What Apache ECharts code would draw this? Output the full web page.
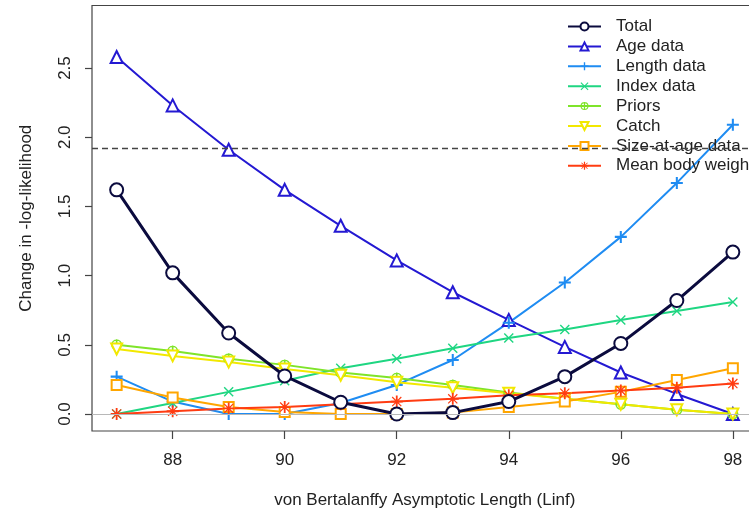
<!DOCTYPE html>
<html>
<head>
<meta charset="utf-8">
<script src="https://cdn.jsdelivr.net/npm/echarts@6/dist/echarts.min.js"></script>
<style>
html,body{margin:0;padding:0;background:#fff;}
#chart{width:749px;height:513px;}
</style>
</head>
<body>
<div id="chart"></div>
<script>
// ---- data ----
var linf = [87, 88, 89, 90, 91, 92, 93, 94, 95, 96, 97, 98];
var totalVals  = [1.62, 1.02, 0.585, 0.275, 0.085, 0.0, 0.01, 0.09, 0.27, 0.51, 0.82, 1.17];
var ageVals    = [2.58, 2.23, 1.91, 1.62, 1.36, 1.11, 0.88, 0.68, 0.485, 0.30, 0.145, 0.0];
var lengthVals = [0.27, 0.09, 0.0, 0.0, 0.08, 0.21, 0.39, 0.66, 0.95, 1.28, 1.67, 2.09];
var indexVals  = [0.0, 0.08, 0.16, 0.24, 0.33, 0.40, 0.475, 0.55, 0.61, 0.68, 0.745, 0.81];
var priorVals  = [0.50, 0.455, 0.40, 0.355, 0.30, 0.26, 0.21, 0.155, 0.11, 0.07, 0.03, 0.0];
var catchVals  = [0.47, 0.42, 0.375, 0.325, 0.28, 0.23, 0.19, 0.15, 0.11, 0.07, 0.03, 0.0];
var sizeVals   = [0.21, 0.12, 0.05, 0.015, 0.0, 0.0, 0.01, 0.05, 0.09, 0.16, 0.245, 0.33];
var mbwVals    = [0.0, 0.02, 0.04, 0.05, 0.07, 0.09, 0.11, 0.135, 0.15, 0.17, 0.19, 0.22];
var xTicks = [88, 90, 92, 94, 96, 98];
var yTicks = [0, 0.5, 1.0, 1.5, 2.0, 2.5];
var chiLine = 1.92;
var seriesNames = ['Total', 'Age data', 'Length data', 'Index data', 'Priors', 'Catch', 'Size-at-age data', 'Mean body weight'];

// ---- styling ----
var FONT = '"Liberation Sans", Arial, Helvetica, sans-serif';
var plusPath = 'path://M-1.7,-10L1.7,-10L1.7,10L-1.7,10ZM-10,-1.7L10,-1.7L10,1.7L-10,1.7Z';
var crossPath = 'path://M-10,-8L-8,-10L10,8L8,10ZM8,-10L10,-8L-8,10L-10,8Z';
var starPath = 'path://M-1.5,-10L1.5,-10L1.5,10L-1.5,10ZM-10,-1.5L10,-1.5L10,1.5L-10,1.5ZM-8.3,-6.9L-6.9,-8.3L8.3,6.9L6.9,8.3ZM6.9,-8.3L8.3,-6.9L-6.9,8.3L-8.3,6.9Z';
var ringPlusPath = 'path://M0,-10A10,10 0 1 1 0,10A10,10 0 1 1 0,-10ZM0,-7.2A7.2,7.2 0 1 0 0,7.2A7.2,7.2 0 1 0 0,-7.2ZM-1.5,-10L1.5,-10L1.5,10L-1.5,10ZM-10,-1.5L10,-1.5L10,1.5L-10,1.5Z';

function pts(vals){ return linf.map(function(x,i){ return [x, vals[i]]; }); }

function mk(name, vals, color, symbol, size, lw, extra){
  var s = {
    name: name, type: 'line', data: pts(vals),
    symbol: symbol, symbolSize: size,
    lineStyle: {color: color, width: lw},
    itemStyle: {color: color, borderColor: color, borderWidth: (symbol.indexOf('empty') === 0 ? 2 : 0)},
    emphasis: {disabled: true},
    animation: false
  };
  if (extra) { for (var k in extra) s[k] = extra[k]; }
  return s;
}

var series = [
  mk('Age data', ageVals, '#2419d2', 'emptyTriangle', 12, 2),
  mk('Length data', lengthVals, '#1f8cf2', plusPath, 12, 2),
  mk('Index data', indexVals, '#1fd682', crossPath, 10, 2),
  mk('Priors', priorVals, '#7fe42a', ringPlusPath, 11, 2),
  mk('Catch', catchVals, '#f2e800', 'emptyTriangle', 11, 2, {symbolRotate: 180}),
  mk('Size-at-age data', sizeVals, '#ffa600', 'emptyRect', 10, 2),
  mk('Mean body weight', mbwVals, '#ff3c12', starPath, 12, 2),
  mk('Total', totalVals, '#0b0b3e', 'emptyCircle', 13, 3)
];
series[7].itemStyle.borderWidth = 2.6;
series[5].itemStyle.borderWidth = 2.6;
// reference lines
series[0].markLine = {
  silent: true, symbol: 'none', animation: false,
  label: {show: false},
  data: [
    {yAxis: 0, lineStyle: {color: '#b8b8b8', width: 1, type: 'solid'}},
    {yAxis: chiLine, lineStyle: {color: '#444', width: 1.3, type: [6, 4]}}
  ]
};
series[0].markLine.z = 10;

var option = {
  backgroundColor: '#ffffff',
  animation: false,
  grid: {left: 92, top: 5.5, bottom: 82, width: 665.5, outerBoundsMode: 'none', containLabel: false,
    show: true, borderColor: '#444', borderWidth: 1.2, backgroundColor: 'transparent'},
  legend: {
    data: seriesNames,
    orient: 'vertical', left: 567, top: 18,
    itemWidth: 33, itemHeight: 10, itemGap: 2.9, padding: 0,
    textStyle: {fontFamily: FONT, fontSize: 17, color: '#222', lineHeight: 17, padding: [0, 0, 0, 10]}
  },
  xAxis: {
    type: 'value', min: 86.56, max: 98.44,
    axisLine: {show: false, onZero: false},
    axisTick: {show: true, customValues: xTicks, length: 8, lineStyle: {color: '#444', width: 1.2}},
    axisLabel: {customValues: xTicks, fontFamily: FONT, fontSize: 17, color: '#222', margin: 21},
    splitLine: {show: false},
    name: 'von Bertalanffy Asymptotic Length (Linf)', nameLocation: 'middle', nameGap: 61,
    nameTextStyle: {fontFamily: FONT, fontSize: 17, color: '#222'}
  },
  yAxis: {
    type: 'value', min: -0.1228, max: 2.952,
    axisLine: {show: false, onZero: false},
    axisTick: {show: true, customValues: yTicks, length: 7, lineStyle: {color: '#444', width: 1.2}},
    axisLabel: {customValues: yTicks, rotate: 90, fontFamily: FONT, fontSize: 17, color: '#222', margin: 18,
      formatter: function(v){ return Number(v).toFixed(1); }},
    splitLine: {show: false},
    name: 'Change in -log-likelihood', nameLocation: 'middle', nameGap: 57,
    nameTextStyle: {fontFamily: FONT, fontSize: 17, color: '#222'}
  },
  series: series
};

var chart = echarts.init(document.getElementById('chart'), null, {renderer: 'canvas'});
chart.setOption(option);
</script>
</body>
</html>
